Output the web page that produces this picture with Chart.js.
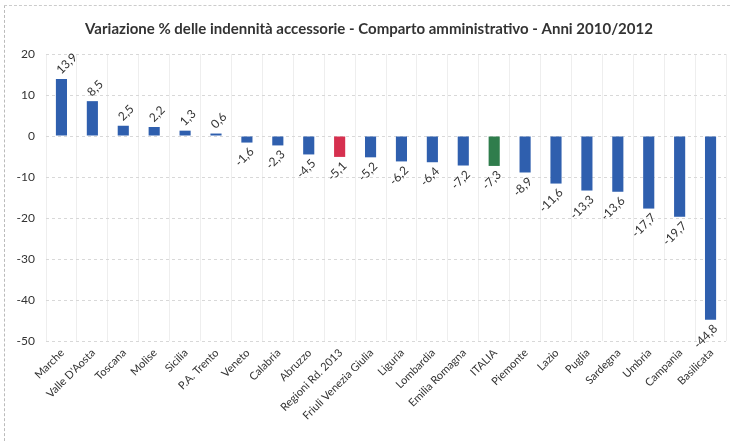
<!DOCTYPE html>
<html>
<head>
<meta charset="utf-8">
<script src="https://cdn.jsdelivr.net/npm/chart.js@4"></script>
<style>
  html, body { margin: 0; padding: 0; background: #fff; }
  #wrap { position: relative; width: 730px; height: 441px; }
  #frame { position: absolute; left: 4px; top: 5px; width: 740px; height: 460px; border-left: 1px dashed #bbb; border-top: 1px dashed #ccc; }
</style>
</head>
<body>
<div id="wrap">
  <div id="frame"></div>
  <canvas id="chart" width="730" height="441"></canvas>
</div>
<script>
  // ---- data ----
  const regioni = ['Marche', "Valle D'Aosta", 'Toscana', 'Molise', 'Sicilia', 'P.A. Trento', 'Veneto', 'Calabria', 'Abruzzo',
    'Regioni Rd. 2013', 'Friuli Venezia Giulia', 'Liguria', 'Lombardia', 'Emilia Romagna', 'ITALIA', 'Piemonte', 'Lazio',
    'Puglia', 'Sardegna', 'Umbria', 'Campania', 'Basilicata'];
  const variazione = [13.9, 8.5, 2.5, 2.2, 1.3, 0.6, -1.6, -2.3, -4.5, -5.1, -5.2, -6.2, -6.4, -7.2, -7.3, -8.9, -11.6,
    -13.3, -13.6, -17.7, -19.7, -44.8];
  const yTicks = [20, 10, 0, -10, -20, -30, -40, -50];

  const titolo = 'Variazione % delle indennità accessorie - Comparto amministrativo - Anni 2010/2012';

  let coloreBarra = (nome) => {
    if (nome === 'Regioni Rd. 2013') return '#d6304f';
    if (nome === 'ITALIA') return '#2f7d4c';
    return '#2f5fae';
  };

  // etichette ruotate sopra/sotto le barre + etichette assi
  const etichette = {
    id: 'etichette',
    afterDatasetsDraw(chart) {
      let { ctx, chartArea } = chart;
      let meta = chart.getDatasetMeta(0);
      ctx.save();
      ctx.font = '12px Lato, sans-serif';
      ctx.fillStyle = '#333';
      ctx.textBaseline = 'middle';
      meta.data.forEach((bar, i) => {
        let v = variazione[i];
        let txt = v.toFixed(1).replace('.', ',');
        ctx.save();
        if (v >= 0) {
          ctx.translate(bar.x - 3, bar.y - 7);
          ctx.rotate(-Math.PI / 4);
          ctx.textAlign = 'left';
        } else {
          ctx.translate(bar.x + 5, bar.y + 7);
          ctx.rotate(-Math.PI / 4);
          ctx.textAlign = 'right';
        }
        ctx.fillText(txt, 0, 0);
        ctx.restore();
      });

      // asse y
      let y = chart.scales.y;
      ctx.textAlign = 'right';
      yTicks.forEach(t => {
        ctx.fillText(String(t), chartArea.left - 11, y.getPixelForValue(t));
      });

      // asse x
      let x = chart.scales.x;
      ctx.font = '11px Lato, sans-serif';
      regioni.forEach((nome, i) => {
        ctx.save();
        ctx.translate(x.getPixelForTick(i) + 1, chartArea.bottom + 10);
        ctx.rotate(-Math.PI / 4);
        ctx.textAlign = 'right';
        ctx.fillText(nome, 0, 0);
        ctx.restore();
      });
      ctx.restore();
    }
  };

  new Chart(document.getElementById('chart').getContext('2d'), {
    type: 'bar',
    data: {
      labels: regioni,
      datasets: [{
        data: variazione,
        backgroundColor: regioni.map(coloreBarra),
        barPercentage: 0.4,
        categoryPercentage: 0.9
      }]
    },
    options: {
      responsive: false,
      animation: false,
      layout: { padding: { top: 8, right: 4, left: 12, bottom: 0 } },
      plugins: {
        legend: { display: false },
        tooltip: { enabled: false },
        title: {
          display: true,
          text: titolo,
          color: '#333',
          font: { family: 'Lato', size: 15, weight: 'bold' },
          padding: { top: 12, bottom: 16 }
        }
      },
      scales: {
        x: {
          grid: { display: true, color: '#eeeeee', drawTicks: false },
          border: { display: false },
          ticks: { display: false },
          afterFit: (scale) => { scale.height = 100; }
        },
        y: {
          min: -50,
          max: 20,
          afterBuildTicks: (scale) => { scale.ticks = yTicks.map(v => ({ value: v })); },
          grid: { color: '#d8d8d8', drawTicks: false },
          border: { display: false, dash: [3, 3] },
          ticks: { display: false },
          afterFit: (scale) => { scale.width = 34; }
        }
      }
    },
    plugins: [etichette]
  });
</script>
</body>
</html>
